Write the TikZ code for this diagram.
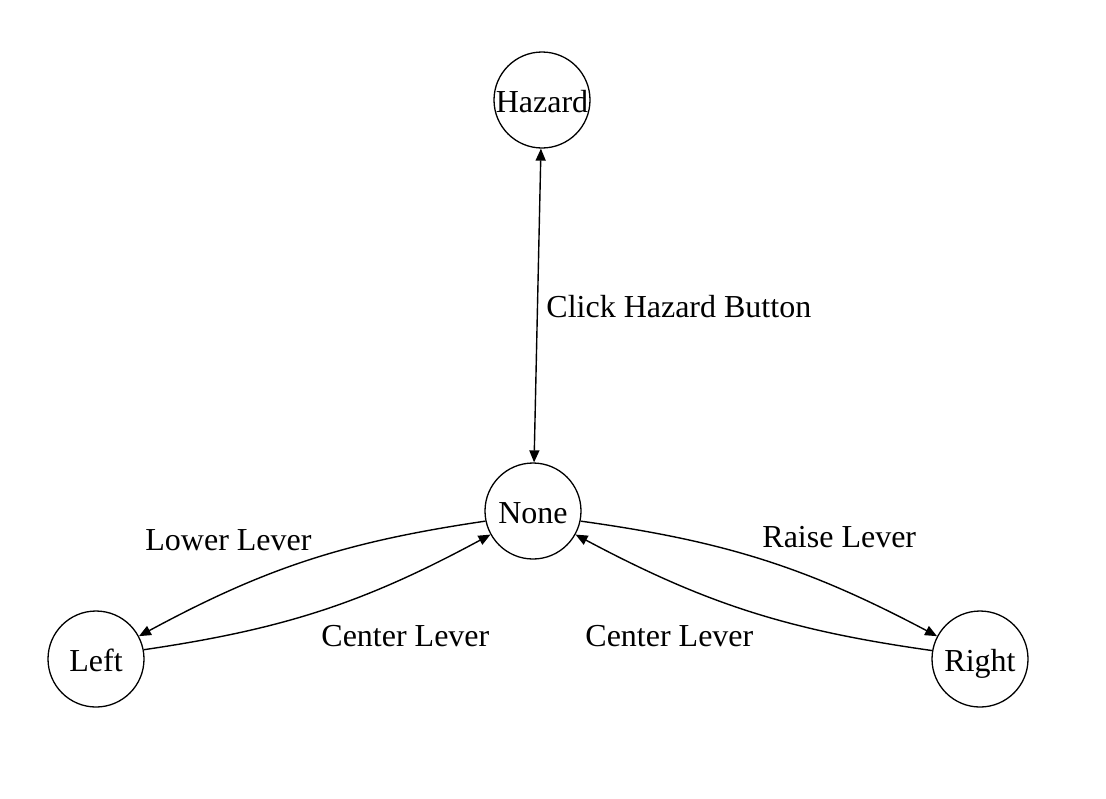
\documentclass[tikz,border=0pt]{standalone}
\usepackage{fontspec}
\setmainfont{Liberation Serif}
\usetikzlibrary{arrows.meta}
\begin{document}
\begin{tikzpicture}[x=0.5pt,y=-0.5pt,
  state/.style={draw,circle,line width=0.65pt,minimum size=48pt,inner sep=0pt,text height=12.5pt,text depth=0.5pt,font=\fontsize{16}{19}\selectfont},
  lbl/.style={anchor=west,inner sep=0pt,font=\fontsize{16}{19}\selectfont},
  conn/.style={line width=0.7pt,-{Triangle[length=6pt,width=5pt]}},
  bconn/.style={line width=0.7pt,{Triangle[length=6pt,width=5pt]}-{Triangle[length=6pt,width=5pt]}}]
\useasboundingbox (0,0) rectangle (1106,798);
\node[state] (hazard) at (542,100) {\makebox[0pt]{Hazard}};
\node[state] (none) at (533,511) {\makebox[0pt]{None}};
\node[state] (left) at (96,659) {\makebox[0pt]{Left}};
\node[state] (right) at (980,659) {\makebox[0pt]{Right}};
\draw[bconn] (hazard) -- (none);
\draw[conn] (none.192) to[bend right=10] (left.28);
\draw[conn] (left.11) to[bend right=10] (none.209);
\draw[conn] (none.348) to[bend left=10] (right.152);
\draw[conn] (right.170) to[bend left=10] (none.331);
\node[lbl] (lclick) at (546,307) {Click Hazard Button};
\node[lbl] (llower) at (145,540) {Lower Lever};
\node[lbl] (lcenterl) at (321,636) {Center Lever};
\node[lbl] (lcenterr) at (585,636) {Center Lever};
\node[lbl] (lraise) at (762,537) {Raise Lever};
\end{tikzpicture}
\end{document}
